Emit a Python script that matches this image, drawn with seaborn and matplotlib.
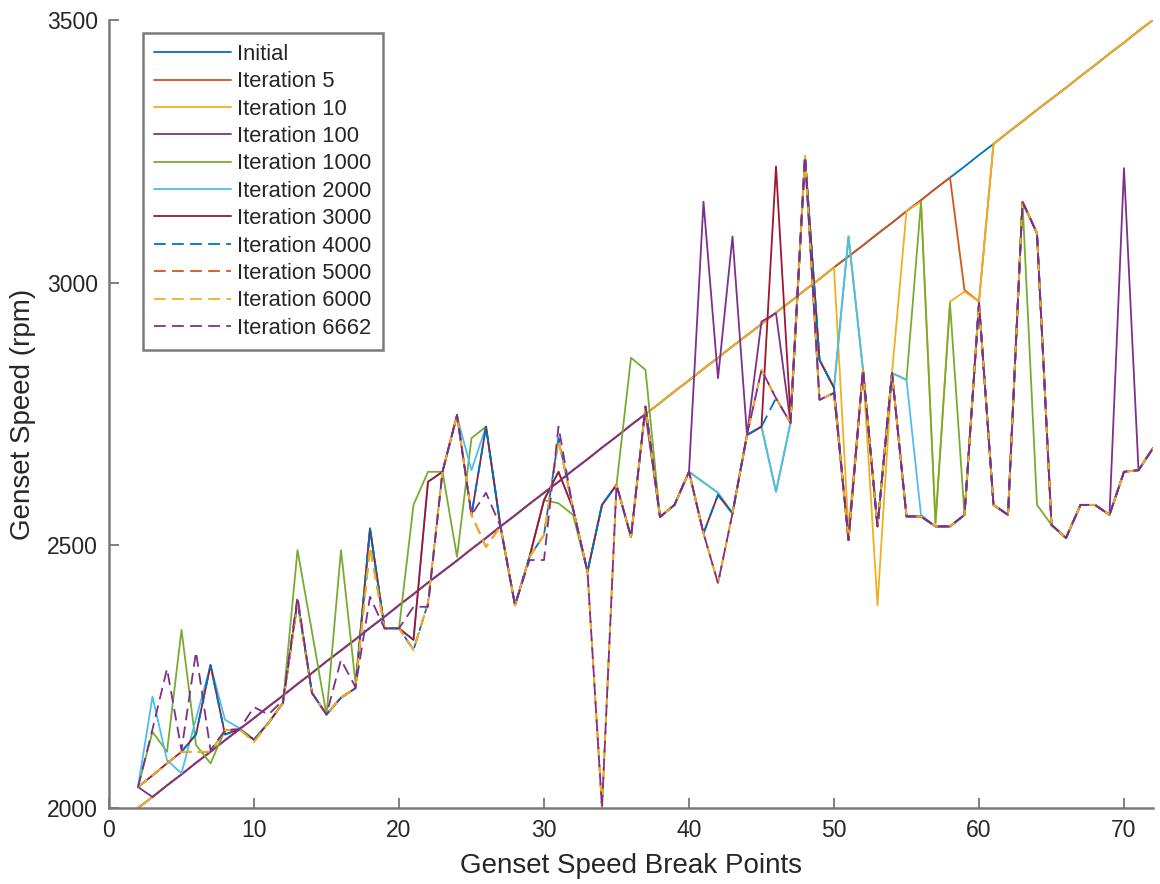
import matplotlib
matplotlib.use("Agg")
import matplotlib.pyplot as plt
import pandas as pd
import seaborn as sns

# Genset speed break point index (x axis)
breakpoints = list(range(2, 73))

# Genset speed (rpm) at each break point, rows of ten: x=2-11, 12-21, ..., 62-72
initial = [2000, 2021, 2043, 2064, 2086, 2107, 2129, 2150, 2171, 2193,
           2214, 2236, 2257, 2279, 2300, 2321, 2343, 2364, 2386, 2407,
           2429, 2450, 2471, 2493, 2514, 2536, 2557, 2579, 2600, 2621,
           2643, 2664, 2686, 2707, 2729, 2750, 2771, 2793, 2814, 2836,
           2857, 2879, 2900, 2921, 2943, 2964, 2986, 3007, 3029, 3050,
           3071, 3093, 3114, 3136, 3157, 3179, 3200, 3221, 3243, 3264,
           3286, 3307, 3329, 3350, 3371, 3393, 3414, 3436, 3457, 3479, 3500]

iter_5 = [2000, 2021, 2043, 2064, 2086, 2107, 2129, 2150, 2171, 2193,
          2214, 2236, 2257, 2279, 2300, 2321, 2343, 2364, 2386, 2407,
          2429, 2450, 2471, 2493, 2514, 2536, 2557, 2579, 2600, 2621,
          2643, 2664, 2686, 2707, 2729, 2750, 2771, 2793, 2814, 2836,
          2857, 2879, 2900, 2921, 2943, 2964, 2986, 3007, 3029, 3050,
          3071, 3093, 3114, 3136, 3157, 3179, 3200, 2986, 2964, 3264,
          3286, 3307, 3329, 3350, 3371, 3393, 3414, 3436, 3457, 3479, 3500]

iter_10 = [2000, 2021, 2043, 2064, 2086, 2107, 2129, 2150, 2171, 2193,
           2214, 2236, 2257, 2279, 2300, 2321, 2343, 2364, 2386, 2407,
           2429, 2450, 2471, 2493, 2514, 2536, 2557, 2579, 2600, 2621,
           2643, 2664, 2686, 2707, 2729, 2750, 2771, 2793, 2814, 2836,
           2857, 2879, 2900, 2921, 2943, 2964, 2986, 3007, 3029, 2529,
           2834, 2386, 2828, 3136, 3154, 2542, 2964, 2983, 2964, 3264,
           3286, 3307, 3329, 3350, 3371, 3393, 3414, 3436, 3457, 3479, 3500]

iter_100 = [2040, 2021, 2043, 2064, 2086, 2107, 2129, 2150, 2171, 2193,
            2214, 2236, 2257, 2279, 2300, 2321, 2343, 2364, 2386, 2407,
            2429, 2450, 2471, 2493, 2514, 2536, 2557, 2579, 2600, 2621,
            2643, 2664, 2686, 2707, 2729, 2750, 2554, 2577, 2640, 3154,
            2818, 3088, 2710, 2926, 2942, 2733, 3240, 2777, 2790, 2510,
            2834, 2536, 2828, 2555, 2555, 2536, 2536, 2558, 2961, 2577,
            2558, 3154, 3094, 2539, 2514, 2577, 2577, 2558, 3218, 2643, 2685]

iter_1000 = [2040, 2145, 2107, 2339, 2120, 2085, 2148, 2150, 2130, 2162,
             2200, 2491, 2335, 2177, 2491, 2238, 2532, 2342, 2342, 2577,
             2640, 2640, 2478, 2704, 2726, 2536, 2386, 2478, 2586, 2580,
             2558, 2450, 2577, 2615, 2857, 2834, 2554, 2577, 2640, 2620,
             2600, 2561, 2710, 2726, 2602, 2733, 3240, 2853, 2800, 3088,
             2834, 2536, 2828, 2815, 3154, 2542, 2961, 2558, 2961, 2577,
             2558, 3154, 2577, 2539, 2514, 2577, 2577, 2558, 2640, 2643, 2685]

iter_2000 = [2040, 2212, 2091, 2066, 2170, 2272, 2168, 2152, 2130, 2162,
             2200, 2395, 2219, 2178, 2210, 2228, 2532, 2342, 2342, 2320,
             2621, 2640, 2745, 2643, 2726, 2536, 2386, 2478, 2586, 2640,
             2570, 2450, 2577, 2615, 2516, 2764, 2554, 2577, 2640, 2620,
             2600, 2561, 2710, 2726, 2602, 2733, 3240, 2853, 2800, 3088,
             2834, 2536, 2828, 2815, 2558, 2536, 2536, 2558, 2961, 2577,
             2558, 3154, 3094, 2539, 2514, 2577, 2577, 2558, 2640, 2643, 2685]

iter_3000 = [2040, 2062, 2085, 2107, 2140, 2272, 2140, 2150, 2130, 2162,
             2200, 2395, 2219, 2178, 2210, 2228, 2532, 2342, 2342, 2320,
             2621, 2640, 2748, 2558, 2726, 2536, 2386, 2478, 2586, 2640,
             2570, 2450, 2577, 2615, 2516, 2764, 2554, 2577, 2640, 2523,
             2596, 2561, 2710, 2726, 3221, 2745, 3240, 2853, 2800, 2510,
             2834, 2536, 2828, 2555, 2555, 2536, 2536, 2558, 2961, 2577,
             2558, 3154, 3094, 2539, 2514, 2577, 2577, 2558, 2640, 2643, 2685]

iter_4000 = [2040, 2062, 2085, 2107, 2140, 2272, 2140, 2150, 2130, 2162,
             2200, 2395, 2219, 2178, 2210, 2228, 2532, 2342, 2342, 2301,
             2390, 2640, 2748, 2558, 2726, 2536, 2386, 2478, 2520, 2704,
             2570, 2450, 2577, 2615, 2516, 2764, 2554, 2577, 2640, 2523,
             2596, 2561, 2710, 2726, 2780, 2733, 3240, 2853, 2800, 2510,
             2834, 2536, 2828, 2555, 2555, 2536, 2536, 2558, 2961, 2577,
             2558, 3154, 3094, 2539, 2514, 2577, 2577, 2558, 2640, 2643, 2685]

iter_5000 = [2040, 2062, 2085, 2107, 2107, 2107, 2148, 2150, 2126, 2162,
             2200, 2390, 2219, 2178, 2210, 2228, 2497, 2342, 2342, 2301,
             2390, 2640, 2748, 2558, 2497, 2536, 2386, 2478, 2520, 2700,
             2570, 2450, 2000, 2615, 2516, 2764, 2554, 2577, 2640, 2523,
             2428, 2561, 2710, 2834, 2780, 2733, 3240, 2777, 2790, 2510,
             2834, 2536, 2828, 2555, 2555, 2536, 2536, 2558, 2961, 2577,
             2558, 3154, 3094, 2539, 2514, 2577, 2577, 2558, 2640, 2643, 2685]

iter_6000 = [2040, 2062, 2085, 2107, 2107, 2107, 2148, 2150, 2126, 2162,
             2200, 2390, 2219, 2178, 2210, 2228, 2497, 2342, 2342, 2301,
             2390, 2640, 2748, 2558, 2497, 2536, 2386, 2478, 2520, 2700,
             2570, 2450, 2000, 2615, 2516, 2764, 2554, 2577, 2640, 2523,
             2428, 2561, 2710, 2834, 2780, 2733, 3240, 2777, 2790, 2510,
             2834, 2536, 2828, 2555, 2555, 2536, 2536, 2558, 2961, 2577,
             2558, 3154, 3094, 2539, 2514, 2577, 2577, 2558, 2640, 2643, 2685]

iter_6662 = [2040, 2150, 2265, 2110, 2297, 2110, 2148, 2150, 2192, 2178,
             2205, 2402, 2219, 2178, 2282, 2230, 2402, 2342, 2342, 2383,
             2383, 2640, 2748, 2558, 2600, 2536, 2386, 2472, 2472, 2726,
             2570, 2450, 2000, 2615, 2516, 2764, 2554, 2577, 2640, 2523,
             2428, 2561, 2710, 2834, 2780, 2733, 3240, 2777, 2790, 2510,
             2834, 2536, 2828, 2555, 2555, 2536, 2536, 2558, 2961, 2577,
             2558, 3154, 3094, 2539, 2514, 2577, 2577, 2558, 2640, 2643, 2685]

series_names = ["Initial", "Iteration 5", "Iteration 10", "Iteration 100",
                "Iteration 1000", "Iteration 2000", "Iteration 3000",
                "Iteration 4000", "Iteration 5000", "Iteration 6000",
                "Iteration 6662"]
series_values = [initial, iter_5, iter_10, iter_100, iter_1000, iter_2000,
                 iter_3000, iter_4000, iter_5000, iter_6000, iter_6662]

line_colors = ["#0072BD", "#D95319", "#EDB120", "#7E2F8E", "#77AC30", "#4DBEEE",
               "#A2142F", "#0072BD", "#D95319", "#EDB120", "#7E2F8E"]
dashed = [False] * 7 + [True] * 4

records = []
for name, vals in zip(series_names, series_values):
    for bp, v in zip(breakpoints, vals):
        records.append({"series": name, "breakpoint": bp, "speed": v})
df = pd.DataFrame(records)

sns.set_style("white")
plt.rcParams["font.family"] = ["Liberation Sans", "DejaVu Sans"]

fig = plt.figure(figsize=(11.6, 8.84), dpi=100)
ax = fig.add_axes([109 / 1160, 1 - 808 / 884, (1153 - 109) / 1160, (808 - 20) / 884])

for name, col, dsh in zip(series_names, line_colors, dashed):
    sub = df[df["series"] == name]
    sns.lineplot(data=sub, x="breakpoint", y="speed", ax=ax, color=col,
                 linewidth=1.3, estimator=None, errorbar=None, sort=False,
                 linestyle=(0, (6.5, 3.5)) if dsh else "-", label=name)

ax.set_xlim(0, 72)
ax.set_ylim(2000, 3500)
ax.set_xticks(range(0, 71, 10))
ax.set_yticks([2000, 2500, 3000, 3500])

text_col = "#262626"
ax.set_xlabel("Genset Speed Break Points", fontsize=20, color=text_col, labelpad=8)
ax.set_ylabel("Genset Speed (rpm)", fontsize=20, color=text_col, labelpad=8)
ax.tick_params(axis="both", direction="in", length=7, width=1.2, colors="#6a6a6a",
               labelcolor=text_col, labelsize=16.5, pad=8,
               bottom=True, left=True, top=False, right=False)

for side in ["top", "right"]:
    ax.spines[side].set_visible(False)
for side in ["left", "bottom"]:
    ax.spines[side].set_color("#7a7a7a")
    ax.spines[side].set_linewidth(1.8)

handles, labels = ax.get_legend_handles_labels()
leg = ax.legend(handles, labels, loc="upper left", bbox_to_anchor=(0.0326, 0.9835),
                borderaxespad=0, fontsize=15.8, handlelength=3.5, handletextpad=0.3,
                labelspacing=0.29, borderpad=0.5, fancybox=False, framealpha=1)
leg.get_frame().set_edgecolor("#7a7a7a")
leg.get_frame().set_linewidth(1.8)
for t in leg.get_texts():
    t.set_color(text_col)

fig.savefig("out.png", dpi=100)
